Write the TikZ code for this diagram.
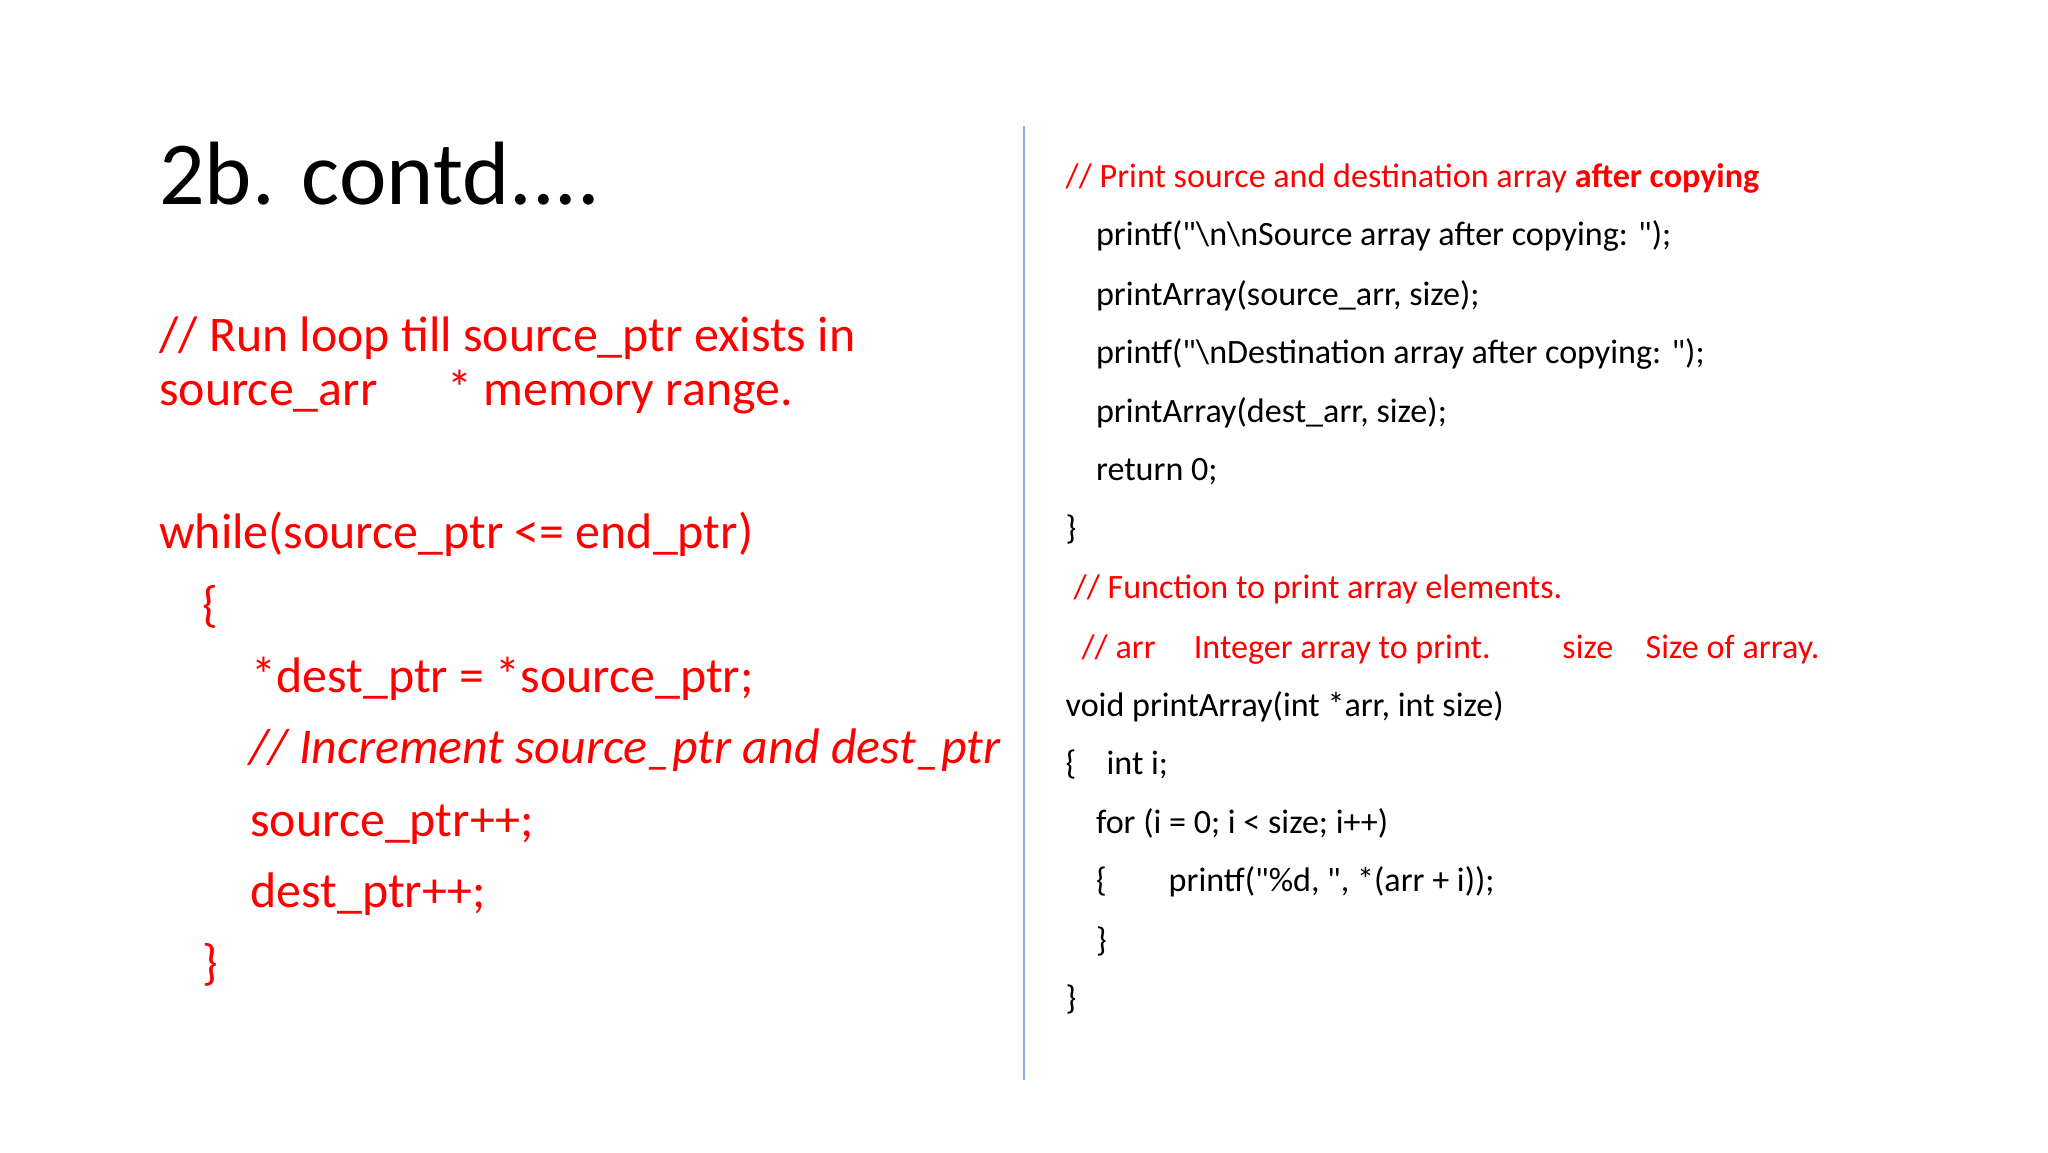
\documentclass[tikz,border=0pt]{standalone}
\usepackage{fontspec}
\setmainfont{Carlito}[Ligatures=TeXOff]
\definecolor{myred}{HTML}{FF0000}
\definecolor{sep}{HTML}{8FAADC}
\newcommand{\dq}{\symbol{34}}
\begin{document}
\begin{tikzpicture}[x=0.013213cm,y=-0.013213cm,
  every node/.style={inner sep=0pt,anchor=base west},
  L/.style={text=myred,font=\fontsize{14.2}{16}\selectfont},
  R/.style={font=\fontsize{9.7}{11}\selectfont},
  RR/.style={R,text=myred}]
\useasboundingbox (0,0) rectangle (1550,872);
\node[font=\fontsize{25.6}{30}\selectfont] (t) at (120,155) {2b. contd....};
\draw[sep,line width=0.8pt] (775,95) -- (775,817);
% left
\node[L] (l1) at (120,266) {// Run loop till source\_ptr exists in};
\node[L] (l2) at (120,307) {source\_arr};
\node[L] (l2b) at (338,307) {* memory range.};
\node[L] (l3) at (120,415) {while(source\_ptr <= end\_ptr)};
\node[L] (l4) at (153,470) {\{};
\node[L] (l5) at (190,524) {*dest\_ptr = *source\_ptr;};
\node[L,font=\fontsize{14.2}{16}\selectfont\itshape] (l6) at (188,578) {// Increment source\_ptr and dest\_ptr};
\node[L] (l7) at (189,633) {source\_ptr++;};
\node[L] (l8) at (189,687) {dest\_ptr++;};
\node[L] (l9) at (153,741) {\}};
% right
\node[RR] (r1) at (806,142) {// Print source and destination array \textbf{after copying}};
\node[R] (r2) at (829,186) {printf(\dq\textbackslash n\textbackslash nSource array after copying: \dq);};
\node[R] (r3) at (829,231) {printArray(source\_arr, size);};
\node[R] (r4) at (829,275) {printf(\dq\textbackslash nDestination array after copying: \dq);};
\node[R] (r5) at (829,320) {printArray(dest\_arr, size);};
\node[R] (r6) at (829,364) {return 0;};
\node[R] (r7) at (806,408) {\}};
\node[RR] (r8) at (812,453) {// Function to print array elements.};
\node[RR] (r9) at (818,498) {// arr};
\node[RR] (r9b) at (903,498) {Integer array to print.};
\node[RR] (r9c) at (1182,498) {size};
\node[RR] (r9d) at (1245,498) {Size of array.};
\node[R] (r10) at (806,542) {void printArray(int *arr, int size)};
\node[R] (r11) at (806,586) {\{};
\node[R] (r11b) at (837,586) {int i;};
\node[R] (r12) at (829,631) {for (i = 0; i < size; i++)};
\node[R] (r13) at (829,675) {\{};
\node[R] (r13b) at (884,675) {printf(\dq\%d, \dq, *(arr + i));};
\node[R] (r14) at (829,720) {\}};
\node[R] (r15) at (806,764) {\}};
\end{tikzpicture}
\end{document}
